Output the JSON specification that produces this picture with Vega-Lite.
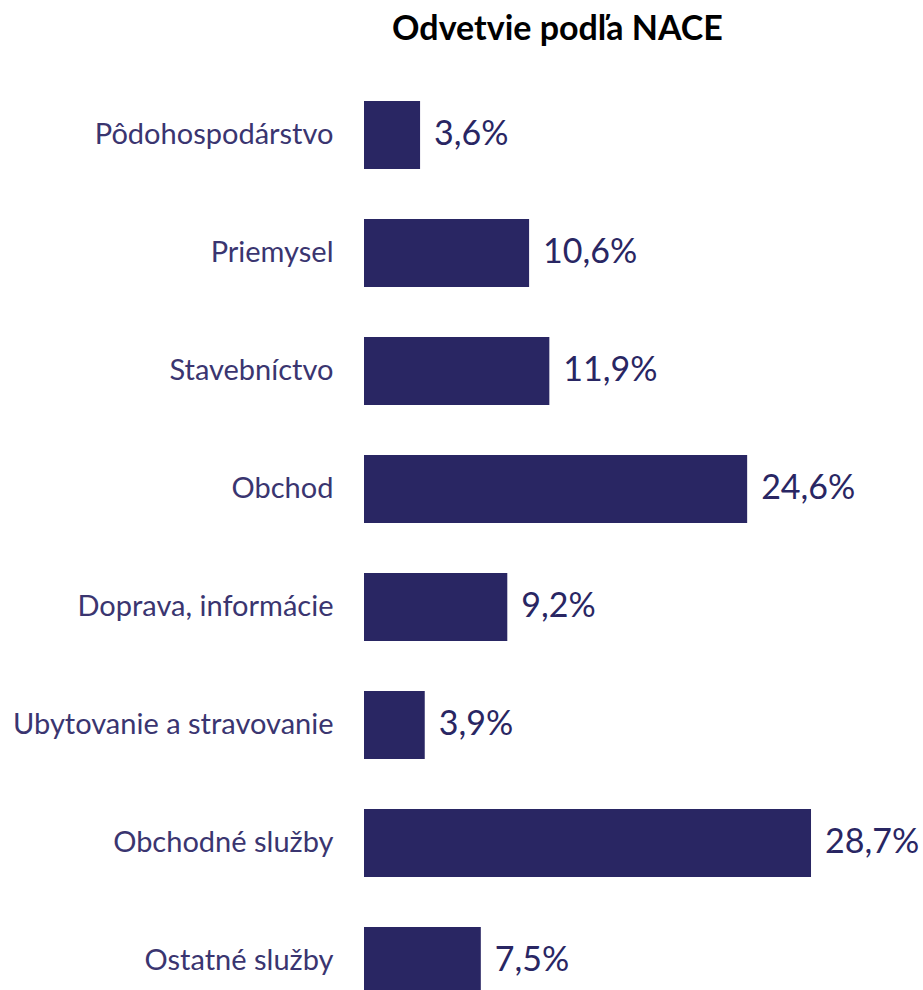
{
  "$schema": "https://vega.github.io/schema/vega-lite/v6.json",
  "autosize": "none",
  "padding": {"left": 364, "top": 76, "right": 0, "bottom": 0},
  "width": 559,
  "height": 914,
  "background": "white",
  "title": {
    "text": "Odvetvie podľa NACE",
    "font": "Lato",
    "fontSize": 34,
    "fontWeight": "bold",
    "color": "#000000",
    "anchor": "middle",
    "frame": "group",
    "dx": -86,
    "offset": 29
  },
  "data": {
    "values": [
      {"odvetvie": "Pôdohospodárstvo", "podiel": 3.6, "label": "3,6%"},
      {"odvetvie": "Priemysel", "podiel": 10.6, "label": "10,6%"},
      {"odvetvie": "Stavebníctvo", "podiel": 11.9, "label": "11,9%"},
      {"odvetvie": "Obchod", "podiel": 24.6, "label": "24,6%"},
      {"odvetvie": "Doprava, informácie", "podiel": 9.2, "label": "9,2%"},
      {"odvetvie": "Ubytovanie a stravovanie", "podiel": 3.9, "label": "3,9%"},
      {"odvetvie": "Obchodné služby", "podiel": 28.7, "label": "28,7%"},
      {"odvetvie": "Ostatné služby", "podiel": 7.5, "label": "7,5%"}
    ]
  },
  "encoding": {
    "y": {
      "field": "odvetvie",
      "type": "nominal",
      "sort": null,
      "title": null,
      "scale": {"range": [0, 944], "paddingInner": 0.424, "paddingOuter": 0.212},
      "axis": {
        "domain": false,
        "ticks": false,
        "grid": false,
        "labelPadding": 31,
        "labelFont": "Lato",
        "labelFontSize": 29,
        "labelFontWeight": "normal",
        "labelColor": "#3a3570",
        "labelLimit": 400
      }
    },
    "x": {
      "field": "podiel",
      "type": "quantitative",
      "scale": {"domain": [0, 35.89], "nice": false, "zero": true},
      "axis": null
    }
  },
  "layer": [
    {"mark": {"type": "bar", "color": "#292663"}},
    {
      "mark": {"type": "text", "align": "left", "baseline": "middle", "dx": 14, "font": "Lato", "fontSize": 34, "color": "#292663"},
      "encoding": {"text": {"field": "label"}}
    }
  ],
  "config": {"view": {"stroke": null}}
}
